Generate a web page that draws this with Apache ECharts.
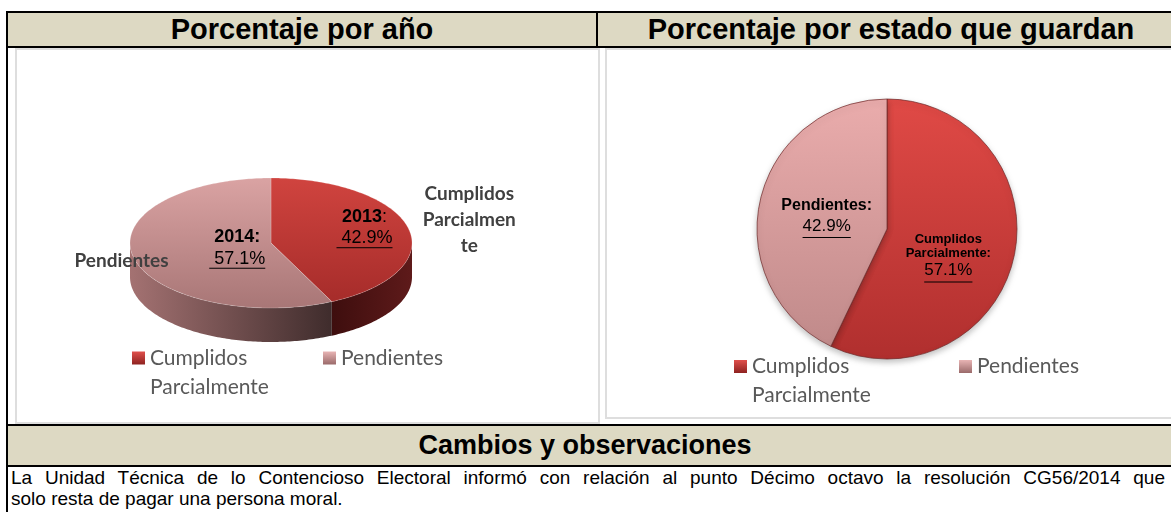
<!DOCTYPE html>
<html>
<head>
<meta charset="utf-8">
<script src="https://cdn.jsdelivr.net/npm/echarts@6/dist/echarts.min.js"></script>
<style>
  html, body { margin: 0; padding: 0; }
  body { width: 1171px; height: 512px; overflow: hidden; background: #fff; position: relative;
         font-family: "Liberation Sans", Arial, sans-serif; }
  .a { position: absolute; }
  .blk { background: #000; }
  .tan { background: #DDD9C3; }
  .box { box-sizing: border-box; border: 2px solid #DEDEDE; background: #fff; }
  .ttl { position: absolute; font-weight: bold; text-align: center; color: #000; white-space: nowrap; }
  .txt { position: absolute; left: 11px; font-size: 19px; line-height: 22px; color: #000; white-space: nowrap; }
  .just { width: 1154px; text-align: justify; text-align-last: justify; white-space: normal; }
  #chart { position: absolute; left: 0; top: 0; width: 1171px; height: 512px; }
</style>
</head>
<body>
  <!-- table frame -->
  <div class="a tan" style="left:8px;top:13px;width:1163px;height:33px;"></div>
  <div class="a blk" style="left:6px;top:11px;width:1165px;height:2px;"></div>
  <div class="a blk" style="left:6px;top:46px;width:1165px;height:2px;"></div>
  <div class="a blk" style="left:596px;top:13px;width:2px;height:34px;"></div>
  <div class="a box" style="left:15px;top:48px;width:585px;height:376px;"></div>
  <div class="a box" style="left:605px;top:48px;width:580px;height:371px;"></div>
  <div class="a tan" style="left:8px;top:426px;width:1163px;height:39px;"></div>
  <div class="a blk" style="left:6px;top:424px;width:1165px;height:2px;"></div>
  <div class="a blk" style="left:6px;top:465px;width:1165px;height:2px;"></div>
  <div class="a blk" style="left:6px;top:11px;width:2px;height:501px;"></div>

  <div class="ttl" style="left:8px;width:588px;top:13px;line-height:33px;font-size:29px;">Porcentaje por año</div>
  <div class="ttl" style="left:598px;width:586px;top:13px;line-height:33px;font-size:29px;">Porcentaje por estado que guardan</div>
  <div class="ttl" style="left:8px;width:1154px;top:426px;line-height:39px;font-size:27px;">Cambios y observaciones</div>
  <div class="txt just" style="top:467px;">La Unidad Técnica de lo Contencioso Electoral informó con relación al punto Décimo octavo la resolución CG56/2014 que</div>
  <div class="txt" style="top:488px;">solo resta de pagar una persona moral.</div>

  <div id="chart"></div>

<script>
// ---------------- data ----------------
const statusNames = ['Cumplidos Parcialmente', 'Pendientes'];
const yearLabels = ['2013', '2014'];
const yearShares = [42.9, 57.1];          // left 3D pie, one slice per year
const outerLabels = ['Cumplidos\nParcialmen\nte', 'Pendientes'];
const stateShares = [57.1, 42.9];         // right pie, by status

// ---------------- helpers / styles ----------------
const ARIAL = '"Liberation Sans", Arial, sans-serif';
const CAL = 'Lato, "Open Sans", sans-serif';
const mctx = document.createElement('canvas').getContext('2d');
function tw(text, font) { mctx.font = font; return mctx.measureText(text).width; }
const LG = echarts.graphic.LinearGradient;

const P3 = { cx: 271, cy: 243, rx: 141, ry: 65, depth: 34 };
const topFill = [
  new LG(0, 0, 0, 1, [{offset: 0, color: '#D0443F'}, {offset: 1, color: '#A62C2A'}]),
  new LG(0, 0, 0, 1, [{offset: 0, color: '#DAA3A3'}, {offset: 1, color: '#A87676'}])
];
const sideFill = [
  new LG(0, 0, 1, 0, [{offset: 0, color: '#3E0E0E'}, {offset: 1, color: '#5E1A1A'}]),
  new LG(0, 0, 1, 0, [{offset: 0, color: '#A47272'}, {offset: 1, color: '#3F2C2C'}])
];
const labelPos3D = [
  { inner: 0.68, dx: 0, dy: -6, outer: 1.42, odx: 3, ody: -3 },
  { inner: 0.26, dx: 2, dy: 1, outer: 1.08, odx: -1, ody: 2.5 }
];

function render3D(params, api) {
  const idx = api.value(1);
  const total = yearShares.reduce((a, b) => a + b, 0);
  let before = 0;
  for (let j = 0; j < idx; j++) before += yearShares[j];
  const a0 = -Math.PI / 2 + before / total * 2 * Math.PI;
  const a1 = a0 + api.value(0) / total * 2 * Math.PI;
  const { cx, cy, rx, ry, depth } = P3;
  const pt = (a, dy) => [cx + rx * Math.cos(a), cy + ry * Math.sin(a) + (dy || 0)];
  const arc = (s, e, dy) => {
    const n = Math.max(2, Math.ceil(Math.abs(e - s) / (Math.PI / 180)));
    const r = [];
    for (let k = 0; k <= n; k++) r.push(pt(s + (e - s) * k / n, dy));
    return r;
  };
  const children = [];
  const s = Math.max(a0, 0), e = Math.min(a1, Math.PI);
  if (e > s) {
    children.push({ type: 'polygon', shape: { points: arc(s, e, 0).concat(arc(s, e, depth).reverse()) },
      style: { fill: sideFill[idx] } });
  }
  children.push({ type: 'polygon', shape: { points: [[cx, cy]].concat(arc(a0, a1, 0)) },
    style: { fill: topFill[idx], stroke: 'rgba(255,255,255,0.25)', lineWidth: 0.8 } });

  const mid = (a0 + a1) / 2;
  const L = labelPos3D[idx];
  const ix = cx + rx * L.inner * Math.cos(mid) + L.dx;
  const iy = cy + ry * L.inner * Math.sin(mid) + L.dy;
  children.push({ type: 'text', style: {
    text: '{b|' + yearLabels[idx] + '}{n|:}', x: ix, y: iy - 10.5, align: 'center', verticalAlign: 'middle',
    rich: { b: { fontFamily: ARIAL, fontWeight: 'bold', fontSize: 18, fill: '#000' },
            n: { fontFamily: ARIAL, fontWeight: idx === 0 ? 'normal' : 'bold', fontSize: 18, fill: '#000' } } } });
  const pct = ' ' + api.value(0).toFixed(1) + '%';
  const pf = '18px ' + ARIAL;
  children.push({ type: 'text', style: { text: pct, x: ix, y: iy + 11, align: 'center', verticalAlign: 'middle',
    fontFamily: ARIAL, fontSize: 18, fill: '#000' } });
  const w = tw(pct, pf);
  children.push({ type: 'line', shape: { x1: ix - w / 2, y1: iy + 20.5, x2: ix + w / 2, y2: iy + 20.5 },
    style: { stroke: '#000', lineWidth: 1 } });

  const ox = cx + rx * L.outer * Math.cos(mid) + L.odx;
  const oy = cy + ry * L.outer * Math.sin(mid) + L.ody;
  children.push({ type: 'text', style: { text: outerLabels[idx], x: ox, y: oy, align: 'center', verticalAlign: 'middle',
    fontFamily: CAL, fontWeight: 'bold', fontSize: 19, lineHeight: 26, fill: '#404040' } });
  return { type: 'group', children };
}

const pieFill = [
  new LG(0, 0, 0, 1, [{offset: 0, color: '#E04A46'}, {offset: 1, color: '#B02F2E'}]),
  new LG(0, 0, 0, 1, [{offset: 0, color: '#EAACAC'}, {offset: 1, color: '#C08A8A'}])
];
const legendFill = [
  new LG(0, 0, 0, 1, [{offset: 0, color: '#E0504C'}, {offset: 1, color: '#8E2220'}]),
  new LG(0, 0, 0, 1, [{offset: 0, color: '#E8B4B4'}, {offset: 1, color: '#9A6A6A'}])
];
const ulW = stateShares.map(v => tw(v.toFixed(1) + '%', '17px ' + ARIAL));
const rightShift = [{ dx: -5, dy: 14 }, { dx: 6, dy: 3 }];

const legendText = { fontFamily: CAL, fontSize: 21, color: '#595959', lineHeight: 29 };
function legendFmt(name) { return name === statusNames[0] ? '\n' + name.replace(' ', '\n') : name; }
function mkLegend(i, left, centerY) {
  const lines = i === 0 ? 3 : 1;
  return { show: true, padding: 0, left: left, top: centerY - lines * 29 / 2, itemWidth: 13, itemHeight: 13,
    itemGap: 0, selectedMode: false, icon: 'rect', textStyle: legendText, formatter: legendFmt,
    data: [{ name: statusNames[i], itemStyle: { color: legendFill[i] } }] };
}

const option = {
  animation: false,
  legend: [
    mkLegend(0, 132, 358), mkLegend(1, 323, 358),
    mkLegend(0, 734, 366.5), mkLegend(1, 959, 366.5)
  ],
  series: statusNames.map((n, i) => ({
    type: 'custom', name: n, coordinateSystem: 'none', silent: true,
    itemStyle: { color: legendFill[i] },
    data: [[yearShares[i], i]], renderItem: render3D
  })).concat([{
    type: 'pie', name: 'estado', center: [887, 229], radius: 130, startAngle: 90, clockwise: true,
    silent: true, emphasis: { disabled: true },
    itemStyle: { borderColor: 'rgba(110,40,40,0.7)', borderWidth: 1, shadowBlur: 6, shadowOffsetY: 3, shadowColor: 'rgba(0,0,0,0.25)' },
    labelLine: { show: false },
    label: {
      position: 'inside', color: '#000',
      formatter: function (p) {
        const v = '{v|' + p.value.toFixed(1) + '%}\n{u' + p.dataIndex + '| }';
        if (p.dataIndex === 0) {
          const parts = p.name.split(' ');
          return '{s|' + parts[0] + '}\n{s|' + parts[1] + ':}\n' + v;
        }
        return '{m|' + p.name + ':}\n' + v;
      },
      rich: {
        s: { fontFamily: ARIAL, fontWeight: 'bold', fontSize: 13, lineHeight: 14, color: '#000' },
        m: { fontFamily: ARIAL, fontWeight: 'bold', fontSize: 16, lineHeight: 21, color: '#000' },
        v: { fontFamily: ARIAL, fontSize: 17, lineHeight: 20, color: '#000' },
        u0: { width: ulW[0], height: 1, lineHeight: 3, backgroundColor: '#000', fontSize: 1 },
        u1: { width: ulW[1], height: 1, lineHeight: 3, backgroundColor: '#000', fontSize: 1 }
      }
    },
    labelLayout: function (p) { return rightShift[p.dataIndex]; },
    data: statusNames.map((n, i) => ({ name: n, value: stateShares[i], itemStyle: { color: pieFill[i] } }))
  }])
};

const chart = echarts.init(document.getElementById('chart'));
chart.setOption(option);
</script>
</body>
</html>
